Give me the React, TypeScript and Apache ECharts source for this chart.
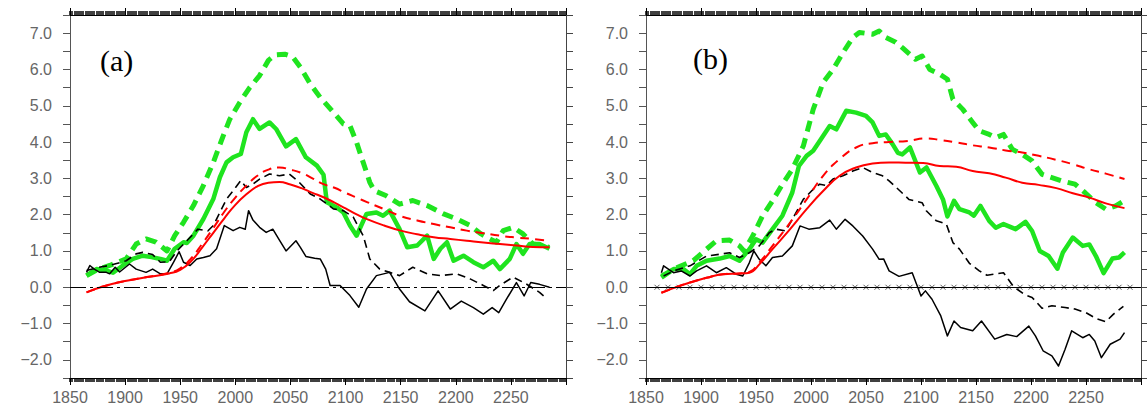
import React, { useEffect, useRef } from "react";
import * as echarts from "echarts";

type P = [number, number][];

// ---------- Panel (a) ----------
const aRedSolid: P = [[1865,-0.14],[1880,0.02],[1900,0.17],[1920,0.28],[1940,0.38],[1950,0.48],[1960,0.72],[1970,1.1],[1980,1.5],[1990,1.9],[2000,2.27],[2010,2.56],[2020,2.78],[2030,2.88],[2040,2.9],[2050,2.83],[2060,2.73],[2070,2.6],[2080,2.48],[2090,2.33],[2100,2.17],[2110,2.01],[2120,1.87],[2135,1.7],[2150,1.56],[2165,1.46],[2180,1.38],[2195,1.33],[2210,1.28],[2225,1.23],[2240,1.19],[2255,1.15],[2270,1.11],[2285,1.1]];
const aRedDashed: P = [[1865,-0.14],[1880,0.02],[1900,0.17],[1920,0.28],[1940,0.4],[1950,0.52],[1960,0.8],[1970,1.2],[1980,1.63],[1990,2.08],[2000,2.47],[2010,2.8],[2020,3.07],[2030,3.24],[2040,3.3],[2050,3.24],[2060,3.15],[2070,3.0],[2080,2.84],[2090,2.74],[2100,2.6],[2110,2.47],[2120,2.34],[2135,2.15],[2150,1.96],[2165,1.84],[2180,1.74],[2195,1.65],[2210,1.56],[2225,1.49],[2240,1.42],[2255,1.37],[2270,1.33],[2285,1.28]];
const aBlackSolid: P = [[1865,0.41],[1868,0.6],[1872,0.5],[1877,0.41],[1883,0.41],[1886,0.37],[1891,0.55],[1895,0.42],[1904,0.64],[1910,0.5],[1919,0.41],[1925,0.5],[1932,0.37],[1938,0.37],[1944,0.69],[1949,0.98],[1953,0.69],[1959,0.6],[1965,0.78],[1971,0.82],[1977,0.87],[1983,1.06],[1990,1.7],[1998,1.56],[2004,1.65],[2009,1.6],[2012,2.11],[2016,1.85],[2022,1.65],[2028,1.51],[2034,1.6],[2040,1.3],[2046,1.0],[2055,1.28],[2059,1.1],[2064,0.85],[2072,0.8],[2077,0.78],[2082,0.5],[2086,0.05],[2095,0.05],[2104,-0.23],[2112,-0.55],[2119,-0.05],[2128,0.32],[2140,0.41],[2149,-0.05],[2158,-0.4],[2172,-0.65],[2184,-0.1],[2195,-0.6],[2205,-0.38],[2216,-0.56],[2225,-0.74],[2233,-0.56],[2239,-0.7],[2246,-0.33],[2255,0.13],[2262,-0.24],[2268,0.13],[2276,0.08],[2285,0.0]];
const aBlackDashed: P = [[1865,0.46],[1876,0.55],[1886,0.6],[1901,0.73],[1910,0.92],[1916,0.96],[1925,0.9],[1932,0.69],[1940,0.7],[1947,1.0],[1956,1.28],[1966,1.6],[1975,1.55],[1980,1.7],[1986,2.06],[1992,2.43],[1998,2.66],[2005,2.94],[2010,2.75],[2016,2.84],[2022,2.98],[2031,3.12],[2040,3.07],[2049,3.12],[2058,2.89],[2068,2.57],[2077,2.43],[2089,2.16],[2098,2.11],[2107,1.93],[2116,1.42],[2122,0.78],[2131,0.5],[2140,0.41],[2149,0.32],[2161,0.55],[2174,0.37],[2186,0.32],[2201,0.37],[2213,0.23],[2225,0.05],[2234,-0.09],[2240,0.05],[2252,0.28],[2264,0.09],[2276,-0.14],[2282,-0.3]];
const aGreenSolid: P = [[1865,0.32],[1874,0.5],[1883,0.46],[1889,0.4],[1898,0.6],[1907,0.78],[1916,0.87],[1924,0.83],[1932,0.78],[1938,0.73],[1945,1.06],[1953,1.24],[1956,1.22],[1962,1.42],[1971,1.88],[1980,2.43],[1986,3.03],[1992,3.44],[1998,3.58],[2005,3.67],[2010,4.27],[2016,4.63],[2022,4.36],[2031,4.54],[2037,4.36],[2046,3.88],[2055,4.08],[2064,3.58],[2074,3.35],[2080,3.1],[2083,2.34],[2092,2.2],[2098,2.06],[2104,1.7],[2110,1.42],[2119,2.02],[2128,2.06],[2134,1.97],[2140,2.11],[2149,1.6],[2156,1.1],[2165,1.15],[2174,1.42],[2180,0.78],[2186,1.06],[2192,1.24],[2198,0.73],[2207,0.87],[2216,0.69],[2225,0.55],[2234,0.73],[2240,0.5],[2249,0.78],[2255,1.19],[2261,0.92],[2267,1.19],[2276,1.19],[2285,1.06]];
const aGreenDashed: P = [[1865,0.32],[1876,0.5],[1886,0.6],[1901,0.78],[1910,1.19],[1919,1.33],[1928,1.24],[1938,1.0],[1945,1.42],[1953,1.79],[1962,2.25],[1971,2.8],[1980,3.44],[1989,4.17],[1995,4.63],[2004,5.09],[2013,5.5],[2022,5.83],[2030,6.25],[2036,6.4],[2045,6.42],[2052,6.35],[2059,6.06],[2068,5.6],[2077,5.23],[2089,4.82],[2098,4.5],[2104,4.45],[2110,3.99],[2116,3.44],[2122,2.89],[2126,2.66],[2137,2.52],[2149,2.29],[2161,2.39],[2174,2.25],[2189,2.02],[2201,1.88],[2213,1.7],[2223,1.47],[2231,1.33],[2237,1.24],[2243,1.56],[2252,1.65],[2261,1.47],[2270,1.19],[2278,1.15],[2285,1.1]];

// ---------- Panel (b) ----------
const bRedSolid: P = [[1864,-0.15],[1880,0.03],[1890,0.13],[1905,0.26],[1920,0.36],[1935,0.38],[1944,0.4],[1953,0.63],[1965,1.05],[1981,1.6],[1996,2.15],[2011,2.65],[2026,3.07],[2041,3.3],[2056,3.41],[2071,3.44],[2086,3.43],[2102,3.42],[2117,3.34],[2132,3.32],[2147,3.2],[2162,3.14],[2177,3.02],[2192,2.88],[2207,2.82],[2223,2.73],[2238,2.59],[2253,2.47],[2268,2.31],[2285,2.18]];
const bRedDashed: P = [[1864,-0.15],[1880,0.03],[1890,0.13],[1905,0.26],[1920,0.36],[1935,0.38],[1944,0.42],[1953,0.68],[1965,1.14],[1981,1.78],[1996,2.42],[2011,3.07],[2026,3.53],[2041,3.85],[2056,3.97],[2071,4.0],[2088,4.03],[2105,4.1],[2117,4.06],[2132,3.99],[2147,3.91],[2162,3.85],[2177,3.77],[2192,3.71],[2207,3.62],[2223,3.51],[2238,3.39],[2253,3.25],[2268,3.13],[2285,2.98]];
const bBlackSolid: P = [[1864,0.4],[1866,0.59],[1875,0.4],[1882,0.45],[1890,0.31],[1896,0.45],[1905,0.59],[1914,0.4],[1923,0.54],[1932,0.36],[1938,0.31],[1944,0.68],[1948,1.0],[1953,0.77],[1959,0.59],[1965,0.82],[1974,0.86],[1983,1.14],[1990,1.69],[1998,1.6],[2008,1.64],[2017,1.85],[2023,1.6],[2031,1.87],[2038,1.69],[2047,1.41],[2056,1.05],[2062,0.77],[2066,0.78],[2071,0.45],[2080,0.3],[2092,0.4],[2100,-0.24],[2104,-0.1],[2110,-0.33],[2118,-0.79],[2124,-1.34],[2130,-0.93],[2136,-1.11],[2147,-1.2],[2155,-0.93],[2167,-1.43],[2178,-1.3],[2187,-1.36],[2198,-1.07],[2204,-1.34],[2211,-1.75],[2219,-1.89],[2225,-2.17],[2231,-1.71],[2237,-1.2],[2247,-1.39],[2253,-1.3],[2258,-1.48],[2264,-1.94],[2272,-1.57],[2281,-1.43],[2285,-1.25]];
const bBlackDashed: P = [[1866,0.31],[1875,0.45],[1890,0.59],[1905,0.86],[1917,0.91],[1926,0.95],[1935,0.82],[1944,0.95],[1953,1.14],[1962,1.5],[1968,1.6],[1977,1.55],[1983,1.87],[1993,2.42],[2002,2.7],[2008,2.84],[2014,2.8],[2020,2.98],[2029,3.07],[2038,3.2],[2047,3.3],[2056,3.16],[2065,3.07],[2071,2.93],[2080,2.68],[2089,2.42],[2101,2.33],[2105,2.1],[2114,1.83],[2123,1.74],[2129,1.23],[2135,1.05],[2144,0.66],[2153,0.45],[2160,0.33],[2166,0.36],[2175,0.4],[2184,0.02],[2194,-0.2],[2201,-0.28],[2210,-0.58],[2219,-0.51],[2231,-0.56],[2240,-0.6],[2250,-0.7],[2259,-0.86],[2268,-0.95],[2275,-0.74],[2284,-0.53]];
const bGreenSolid: P = [[1864,0.31],[1875,0.5],[1884,0.5],[1890,0.36],[1896,0.59],[1905,0.73],[1917,0.79],[1926,0.86],[1935,0.73],[1944,1.05],[1950,1.32],[1956,1.23],[1965,1.6],[1974,1.97],[1983,2.61],[1989,3.34],[1996,3.62],[2002,3.76],[2009,4.08],[2017,4.44],[2023,4.35],[2032,4.86],[2041,4.81],[2050,4.72],[2056,4.54],[2062,4.17],[2068,4.21],[2074,3.95],[2079,3.7],[2083,3.66],[2090,3.85],[2099,3.16],[2105,3.3],[2114,2.79],[2120,2.42],[2124,1.95],[2130,2.38],[2135,2.15],[2144,2.06],[2148,1.97],[2154,2.24],[2162,1.83],[2168,1.64],[2175,1.74],[2186,1.6],[2195,1.8],[2201,1.55],[2208,1.0],[2216,0.86],[2224,0.51],[2229,0.96],[2238,1.37],[2247,1.14],[2253,1.18],[2259,0.86],[2266,0.39],[2274,0.79],[2280,0.82],[2285,0.96]];
const bGreenDashed: P = [[1864,0.27],[1875,0.5],[1893,0.73],[1905,1.05],[1914,1.28],[1926,1.3],[1935,1.14],[1939,1.0],[1947,1.41],[1956,1.97],[1965,2.38],[1974,2.84],[1983,3.25],[1993,3.89],[2002,4.9],[2011,5.64],[2020,6.0],[2029,6.46],[2038,6.88],[2044,7.02],[2056,6.97],[2062,7.06],[2068,6.88],[2077,6.75],[2083,6.6],[2095,6.28],[2101,6.37],[2108,6.0],[2117,5.87],[2124,5.73],[2129,5.18],[2138,4.9],[2147,4.54],[2153,4.31],[2162,4.21],[2168,4.12],[2175,4.21],[2183,3.8],[2192,3.66],[2201,3.48],[2210,3.11],[2219,3.02],[2228,2.93],[2240,2.84],[2249,2.61],[2259,2.33],[2268,2.15],[2277,2.24],[2283,2.35]];

// zero-line marker years for panel (b)
const zeroMarkYears = [1860,1870,1880,1890,1900,1910,1920,1930,1940,1950,1960,1970,1980,1990,2000,2010,2020,2030,2040,2050,2060,2070,2080,2090,2100,2110,2120,2130,2140,2150,2160,2170,2180,2190,2200,2210,2220,2230,2240,2250,2260,2270,2280,2290];

const panelLabels = ["(a)", "(b)"];

const GREEN = "#1fe41f";
const RED = "#ff0000";
const LABEL_FONT = "Liberation Sans";

function App() {
  const ref = useRef<HTMLDivElement>(null);
  useEffect(() => {
    if (!ref.current) return;
    const chart = echarts.init(ref.current, undefined, { renderer: "svg" });

    const grids = [
      { left: 70, top: 15, width: 496, height: 363 },
      { left: 646, top: 15, width: 495, height: 363 },
    ];

    const xAxes: any[] = [];
    const yAxes: any[] = [];
    grids.forEach((_, g) => {
      const base = {
        gridIndex: g, type: "value", min: 1850, max: 2300,
        splitLine: { show: false },
      };
      xAxes.push({
        ...base, position: "bottom", interval: 50,
        axisLine: { show: true, onZero: false, lineStyle: { color: "#000", width: 1 } },
        axisTick: { show: true, length: 7, lineStyle: { color: "#000" } },
        axisLabel: {
          show: true, margin: 11, fontSize: 16, color: "#666", fontFamily: LABEL_FONT,
          formatter: (v: number) => (v >= 2300 ? "" : String(v)),
        },
      });
      xAxes.push({
        ...base, position: "bottom", interval: 2,
        axisLine: { show: false, onZero: false },
        axisTick: { show: true, length: 4, lineStyle: { color: "#000", width: 1.5 } },
        axisLabel: { show: false },
      });
      xAxes.push({
        ...base, position: "top", interval: 50,
        axisLine: { show: true, onZero: false, lineStyle: { color: "#000", width: 1 } },
        axisTick: { show: true, length: 7, lineStyle: { color: "#000" } },
        axisLabel: { show: false },
      });
      xAxes.push({
        ...base, position: "top", interval: 2,
        axisLine: { show: false, onZero: false },
        axisTick: { show: true, length: 4, lineStyle: { color: "#000", width: 1.5 } },
        axisLabel: { show: false },
      });
      const ybase = {
        gridIndex: g, type: "value", min: -2.5, max: 7.5, interval: 0.5,
        splitLine: { show: false },
      };
      yAxes.push({
        ...ybase, position: "left",
        axisLine: { show: true, onZero: false, lineStyle: { color: "#555", width: 1 } },
        axisTick: { show: true, length: 7, lineStyle: { color: "#555" } },
        axisLabel: {
          show: true, margin: 18, fontSize: 16, color: "#666", fontFamily: LABEL_FONT,
          formatter: (v: number) => {
            const r = Math.round(v * 10) / 10;
            if (Math.abs(r - Math.round(r)) > 1e-6) return "";
            return (r < 0 ? "\u2212" : "") + Math.abs(r).toFixed(1);
          },
        },
      });
      yAxes.push({
        ...ybase, position: "right",
        axisLine: { show: true, onZero: false, lineStyle: { color: "#444", width: 1 } },
        axisTick: { show: true, length: 7, lineStyle: { color: "#444" } },
        axisLabel: { show: false },
      });
    });

    const mk = (g: number, data: P, color: string, width: number, dash: any, smooth = false, extra: any = {}) => ({
      type: "line",
      xAxisIndex: g * 4,
      yAxisIndex: g * 2,
      data,
      showSymbol: false,
      symbol: "none",
      smooth,
      lineStyle: { color, width, type: dash, cap: "butt", join: "round" },
      silent: true,
      ...extra,
    });

    const panels = [
      { rs: aRedSolid, rd: aRedDashed, ks: aBlackSolid, kd: aBlackDashed, gs: aGreenSolid, gd: aGreenDashed },
      { rs: bRedSolid, rd: bRedDashed, ks: bBlackSolid, kd: bBlackDashed, gs: bGreenSolid, gd: bGreenDashed },
    ];

    const series: any[] = [];
    panels.forEach((p, g) => {
      const zeroLine = {
        markLine: {
          silent: true,
          symbol: ["none", "none"],
          label: { show: false },
          lineStyle: g === 0
            ? { color: "#000", width: 1, type: [16, 4, 3, 4] }
            : { color: "#000", width: 1, type: "solid" },
          data: [{ yAxis: 0 }],
        },
      };
      series.push(mk(g, p.gd, GREEN, 5, [11, 7], false, zeroLine));
      series.push(mk(g, p.gs, GREEN, 4.5, "solid"));
      series.push(mk(g, p.kd, "#000", 1.6, [8, 5]));
      series.push(mk(g, p.ks, "#000", 1.5, "solid"));
      series.push(mk(g, p.rd, RED, 2, [9, 6], true));
      series.push(mk(g, p.rs, RED, 2, "solid", true));
    });

    series.push({
      type: "scatter",
      xAxisIndex: 4,
      yAxisIndex: 2,
      data: zeroMarkYears.map((y) => [y, 0]),
      symbol: "path://M0 0L10 10M10 0L0 10",
      symbolSize: 5,
      itemStyle: { color: "none", borderColor: "#333", borderWidth: 1 },
      silent: true,
      z: 1,
    });

    chart.setOption({
      animation: false,
      backgroundColor: "#fff",
      grid: grids.map((g) => ({ ...g, containLabel: false })),
      xAxis: xAxes,
      yAxis: yAxes,
      series,
      graphic: [
        {
          type: "text", left: 100, top: 45,
          style: { text: panelLabels[0], font: "30px 'Liberation Serif'", fill: "#000" },
        },
        {
          type: "text", left: 693, top: 43,
          style: { text: panelLabels[1], font: "30px 'Liberation Serif'", fill: "#000" },
        },
      ],
    });
    return () => chart.dispose();
  }, []);

  return (
    <div
      ref={ref}
      style={{ position: "absolute", left: 0, top: 0, width: 1147, height: 405, background: "#fff" }}
    />
  );
}

export default App;
